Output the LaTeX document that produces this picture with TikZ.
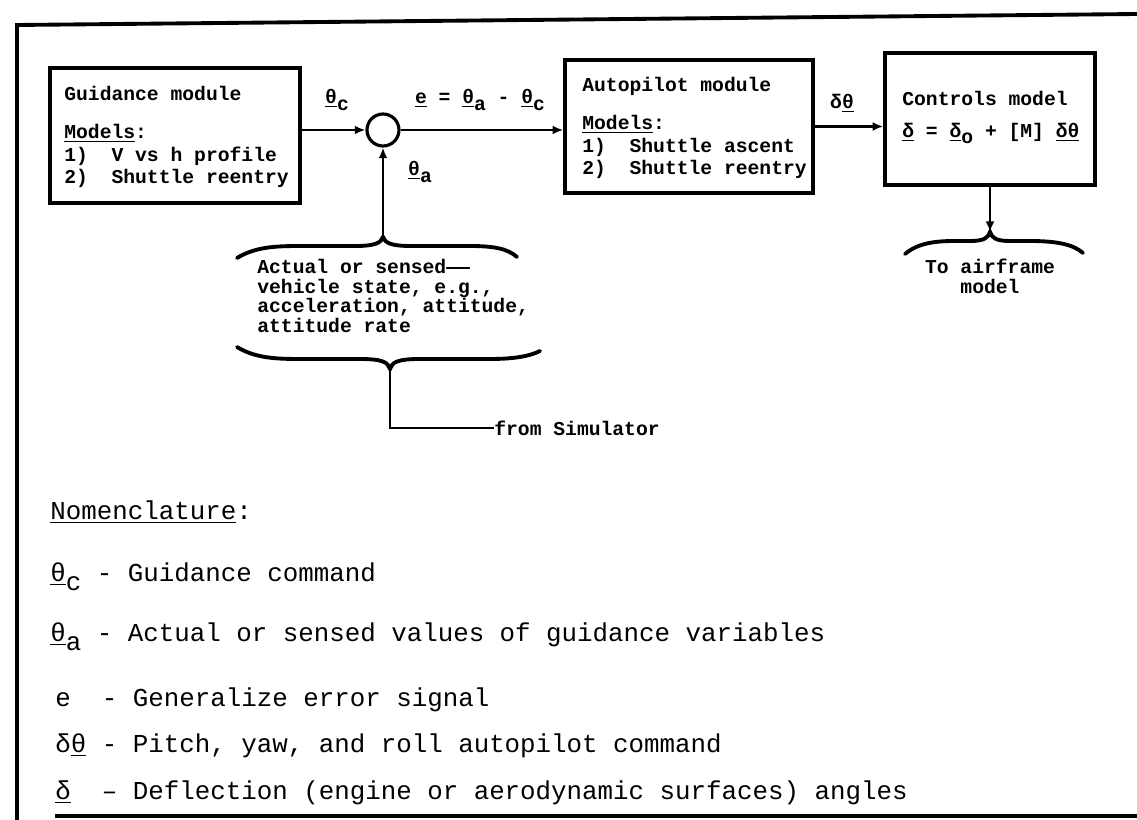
\documentclass[tikz,border=0pt]{standalone}
\usepackage{fontspec}
\setmainfont{Liberation Mono}
\usepackage{tikz}
\usetikzlibrary{arrows.meta,positioning,calc}

\newcommand{\usub}[2]{\underline{#1}\raisebox{-0.6ex}{#2}}

\begin{document}
\frenchspacing
\begin{tikzpicture}[
    x=0.02cm, y=-0.02cm,
    modbox/.style={rectangle, draw, line width=2pt},
    boxtext/.style={anchor=north west, inner sep=0pt, align=left, font=\fontsize{11.2}{12.8}\selectfont\bfseries},
    sensetext/.style={anchor=north west, inner sep=0pt, align=left, font=\fontsize{11.2}{11.1}\selectfont\bfseries},
    sumnode/.style={circle, draw, line width=1.8pt, minimum size=0.64cm, inner sep=0pt},
    siglabel/.style={inner sep=0pt, font=\fontsize{11.2}{11.4}\selectfont\bfseries},
    nomtext/.style={anchor=base west, inner sep=0pt, font=\fontsize{14.7}{17}\selectfont},
    arrow/.style={-{Latex[length=6pt,width=5pt]}, line width=1.6pt},
    wire/.style={line width=1.6pt},
    curly/.style={line width=2.2pt, line cap=round},
    frame/.style={line width=2.2pt}
]
    \useasboundingbox (0,0) rectangle (1137,820);

    % outer frame
    \draw[frame] (1137,14) -- (17,25) -- (17,820);
    \draw[frame] (55,816) -- (1137,816);

    % modules
    \node[modbox, minimum width=5cm, minimum height=2.7cm] (guid) at (175,135.5) {};
    \node[boxtext] (guidtxt) at (64,86) {Guidance module\\[9pt]\underline{Models}:\\1)~~V vs h profile\\2)~~Shuttle reentry};

    \node[sumnode] (sum) at (383,130) {};

    \node[modbox, minimum width=4.96cm, minimum height=2.66cm] (auto) at (689,126.5) {};
    \node[boxtext] (autotxt) at (582,77) {Autopilot module\\[9pt]\underline{Models}:\\1)~~Shuttle ascent\\2)~~Shuttle reentry};

    \node[modbox, minimum width=4.2cm, minimum height=2.64cm] (ctrl) at (990,119) {};
    \node[boxtext] (ctrltxt) at (902,91) {Controls model\\[5.4pt]\underline{δ} = \usub{δ}{o} + [M] \underline{δθ}};

    % signal labels
    \node[siglabel] (thc) at (337,100) {\usub{θ}{c}};
    \node[siglabel] (err) at (480,100) {\underline{e} = \usub{θ}{a} - \usub{θ}{c}};
    \node[siglabel] (tha) at (420,172) {\usub{θ}{a}};
    \node[siglabel] (dth) at (842,103) {δ\underline{θ}};

    \draw[arrow] (guid.east |- sum) -- (sum.west);
    \draw[arrow] (sum.east) -- (sum.east -| auto.west);
    \draw[arrow] (auto.east) -- (auto.east -| ctrl.west);

    % sensed vehicle state
    \coordinate (stip) at (383,237);
    \coordinate (btip) at (390,369);
    \node[sensetext] (sense) at (257,259) {Actual or sensed——\\vehicle state, e.g.,\\acceleration, attitude,\\attitude rate};
    \draw[curly] (237,258) .. controls (255,247) and (275,246) .. (300,246) -- (355,246)
        .. controls (375,246) and (381,243) .. (stip)
        .. controls (385,243) and (391,246) .. (411,246) -- (470,246)
        .. controls (495,246) and (508,249) .. (517,257);
    \draw[curly] (237,347) .. controls (255,358) and (275,359) .. (300,359) -- (360,359)
        .. controls (382,359) and (388,362) .. (btip)
        .. controls (392,362) and (398,359) .. (420,359) -- (490,359)
        .. controls (515,359) and (530,356) .. (540,351);
    \draw[arrow] (stip) -- (sum.south);

    \node[siglabel, anchor=west] (sim) at (494,428) {from Simulator};
    \draw[wire] (btip) |- (sim.west);

    % controls output
    \coordinate (atip) at (990,232);
    \draw[arrow] (ctrl.south) -- (atip);
    \draw[curly] (905,254) .. controls (918,243) and (935,241) .. (955,241) -- (970,241)
        .. controls (984,241) and (988,238) .. (atip)
        .. controls (992,238) and (996,241) .. (1010,241) -- (1030,241)
        .. controls (1055,241) and (1073,244) .. (1083,253);
    \node[siglabel, align=center, anchor=north] (air) at (990,259) {To airframe\\model};

    % nomenclature
    \node[nomtext] (nomhead) at (50,520) {\underline{Nomenclature}:};
    \node[nomtext] (nomc) at (50,582) {\usub{θ}{c} - Guidance command};
    \node[nomtext] (noma) at (50,642) {\usub{θ}{a} - Actual or sensed values of guidance variables};
    \node[nomtext] (nome) at (55,707) {e~~- Generalize error signal};
    \node[nomtext] (nomdt) at (55,753) {δ\underline{θ} - Pitch, yaw, and roll autopilot command};
    \node[nomtext] (nomd) at (55,800) {\underline{δ}~~-- Deflection (engine or aerodynamic surfaces) angles};
\end{tikzpicture}
\end{document}
